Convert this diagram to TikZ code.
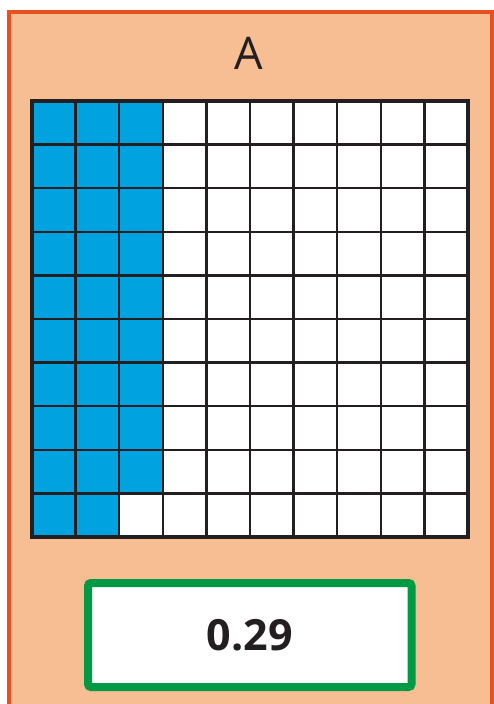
\documentclass[tikz,border=0pt]{standalone}
\usepackage{fontspec}
\setmainfont{Open Sans}
\definecolor{peach}{HTML}{F7BE94}
\definecolor{frameorange}{HTML}{E8501E}
\definecolor{cellblue}{HTML}{00A3E0}
\definecolor{gridblack}{HTML}{231F20}
\definecolor{boxgreen}{HTML}{009A44}
\tikzset{
  panel/.style={fill=peach, draw=frameorange, line width=4pt},
  bluecell/.style={fill=cellblue, draw=none},
  gridline/.style={draw=gridblack, line width=2.5pt},
  gridframe/.style={draw=gridblack, line width=4pt, line cap=rect},
  answerbox/.style={draw=boxgreen, fill=white, line width=8pt, rounded corners=3pt, minimum width=323.5pt, minimum height=104pt, inner sep=0pt},
}
\begin{document}
\begin{tikzpicture}[x=1pt,y=-1pt]
\useasboundingbox (0,0) rectangle (494,704);
\fill[white] (0,0) rectangle (494,704);
\begin{scope}
\clip (0,0) rectangle (494,704);
\path[panel] (9,12) rectangle (492,720);
\end{scope}
\node[font=\fontsize{45}{50}\selectfont, text=gridblack] (title) at (249,53) {A};
% blue cells
\fill[bluecell] (32,101) rectangle (32+3*43.6,101+9*43.6);
\fill[bluecell] (32,101+9*43.6) rectangle (32+2*43.6,537);
\fill[white] (32+3*43.6,101) rectangle (468,101+9*43.6);
\fill[white] (32+2*43.6,101+9*43.6) rectangle (468,537);
\foreach \i in {1,...,9} {
  \draw[gridline] (32+\i*43.6,101) -- (32+\i*43.6,537);
  \draw[gridline] (32,101+\i*43.6) -- (468,101+\i*43.6);
}
\draw[gridframe] (32,101) rectangle (468,537);
\node[answerbox] (answer) at (249.75,635) {};
\node[font=\bfseries\fontsize{43}{48}\selectfont, text=gridblack] (value) at (answer.center) {0.29};
\end{tikzpicture}
\end{document}
